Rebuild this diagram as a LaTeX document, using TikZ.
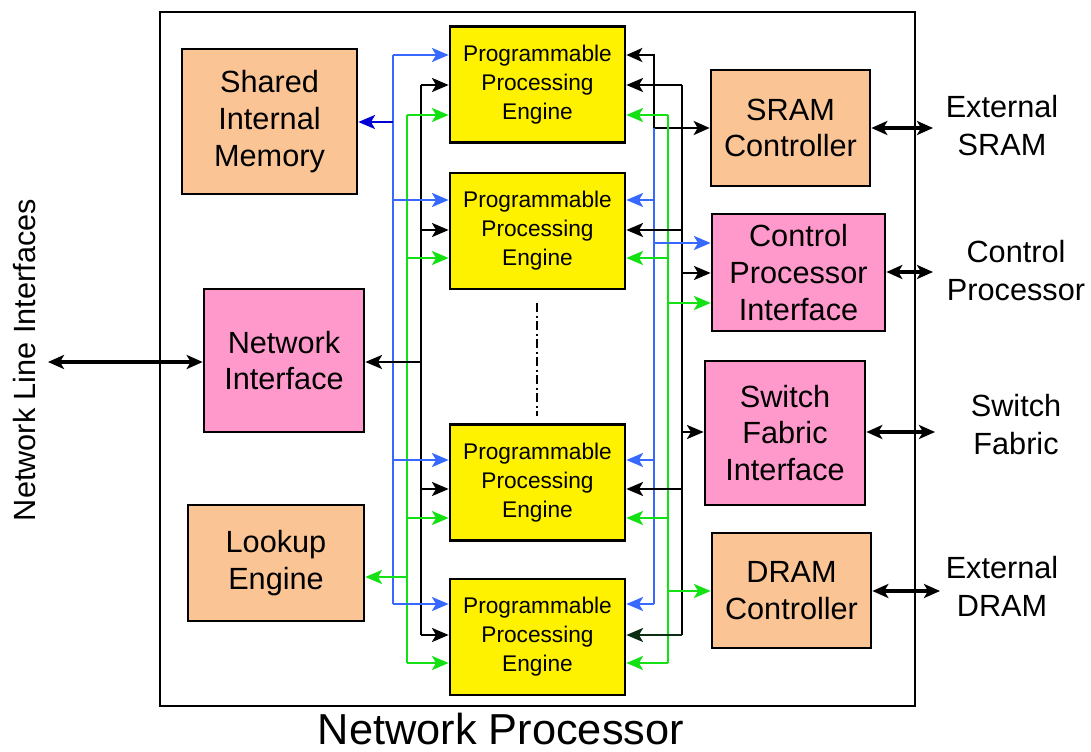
\documentclass[tikz,border=0pt]{standalone}
\usepackage{fontspec}
\setmainfont{Liberation Sans}
\usetikzlibrary{arrows.meta}

\definecolor{peach}{RGB}{250,196,148}
\definecolor{pinkbox}{RGB}{255,153,204}
\definecolor{busblue}{RGB}{55,105,255}
\definecolor{busgreen}{RGB}{20,225,20}
\definecolor{deepblue}{RGB}{0,0,215}
\definecolor{darkwire}{RGB}{10,45,20}

\begin{document}
\begin{tikzpicture}[x=0.75pt,y=-0.75pt,
  box/.style={draw=black, line width=2pt, align=center, inner sep=0pt},
  bigtxt/.style={font=\fontsize{23}{27.5}\selectfont},
  peachbox/.style={box, bigtxt, fill=peach},
  pinkbx/.style={box, bigtxt, fill=pinkbox},
  ppe/.style={box, fill=yellow, minimum width=131.25pt, minimum height=87pt,
              font=\fontsize{17}{21.75}\selectfont},
  label/.style={align=center, inner sep=0pt, font=\fontsize{23}{28.5}\selectfont},
  wire/.style={line width=1.9pt, line cap=butt},
  thickwire/.style={line width=2.3pt, line cap=butt},
  tip/.style={-{Stealth[length=12.5pt,width=10.5pt,inset=3pt]}},
  twotips/.style={{Stealth[length=12pt,width=10.5pt,inset=3pt]}-{Stealth[length=12pt,width=10.5pt,inset=3pt]}},
]
\useasboundingbox (0,0) rectangle (1091,752);

% chip outline and caption
\node[draw=black, line width=1.6pt, minimum width=566.25pt, minimum height=520.5pt,
      inner sep=0pt] (chip) at (537.5,359) {};
\node[inner sep=0pt, font=\fontsize{32.5}{38}\selectfont] (caption) at (501,729) {Network Processor};

% processing engines
\node[ppe] (ppe1) at (537.5,84.5) {Programmable\\Processing\\Engine};
\node[ppe] (ppe2) at (537.5,231)  {Programmable\\Processing\\Engine};
\node[ppe] (ppe3) at (537.5,482.5){Programmable\\Processing\\Engine};
\node[ppe] (ppe4) at (537.5,637)  {Programmable\\Processing\\Engine};

% left-hand units
\node[peachbox, minimum width=131.25pt, minimum height=108.75pt] (sim) at (269.5,121.5) {Shared\\Internal\\Memory};
\node[pinkbx,   minimum width=120pt,    minimum height=107.25pt] (ni)  at (284,360.5)   {Network\\Interface};
\node[peachbox, minimum width=132pt,    minimum height=87pt]     (le)  at (276,563)     {Lookup\\Engine};

% right-hand units
\node[peachbox, minimum width=119.25pt, minimum height=87pt]    (sram) at (790.5,128)   {SRAM\\Controller};
\node[pinkbx,   minimum width=129.75pt, minimum height=87.75pt] (cpi)  at (798.5,272.5) {Control\\Processor\\Interface};
\node[pinkbx,   minimum width=120pt,    minimum height=108pt]   (sfi)  at (785,433)     {Switch\\Fabric\\Interface};
\node[peachbox, minimum width=119.25pt, minimum height=86.25pt] (dram) at (791.5,590.5) {DRAM\\Controller};

% external labels
\node[inner sep=0pt, font=\fontsize{23}{28.5}\selectfont, rotate=90] (nli) at (25,360) {Network Line Interfaces};
\node[label] (xsram) at (1002,126) {External\\SRAM};
\node[label] (xcp)   at (1016,271) {Control\\Processor};
\node[label] (xsf)   at (1016,425) {Switch\\Fabric};
\node[label] (xdram) at (1002,586) {External\\DRAM};

% engines elided between the second and third
\coordinate (dd1) at (537,303);
\coordinate (dd2) at (537,416);
\draw[line width=1.6pt, dash pattern=on 7pt off 2.5pt on 1.5pt off 2.5pt] (dd1) -- (dd2);

% ---- left buses: blue, green, black ----
\coordinate (LBt) at (393,55);  \coordinate (LBb) at (393,604);
\coordinate (LGt) at (407,115); \coordinate (LGb) at (407,663);
\coordinate (LKt) at (421,85);  \coordinate (LKb) at (421,635);
\draw[wire, busblue]  (LBt) -- (LBb);
\draw[wire, busgreen] (LGt) -- (LGb);
\draw[wire, black]    (LKt) -- (LKb);

\foreach \e/\b/\k/\g in {ppe1/55/85/115, ppe2/200/230/258, ppe3/460/489/518, ppe4/604/635/663} {
  \coordinate (lb) at (393,\b);
  \coordinate (lk) at (421,\k);
  \coordinate (lg) at (407,\g);
  \draw[wire, busblue, tip]  (lb) -- (lb -| \e.west);
  \draw[wire, black, tip]    (lk) -- (lk -| \e.west);
  \draw[wire, busgreen, tip] (lg) -- (lg -| \e.west);
}

% left-hand units fed from the buses
\coordinate (tsim) at (393,122);
\coordinate (tni)  at (421,362);
\coordinate (tle)  at (407,577);
\draw[wire, deepblue, tip] (tsim) -- (tsim -| sim.east);
\draw[wire, black, tip]    (tni)  -- (tni -| ni.east);
\draw[wire, busgreen, tip] (tle)  -- (tle -| le.east);

% ---- right buses ----
% first engine to the SRAM controller
\coordinate (RA1) at (654,55);
\coordinate (RA2) at (654,128);
\draw[wire, black, twotips] (RA1 -| ppe1.east) -- (RA1) -- (RA2) -- (RA2 -| sram.west);

\coordinate (RBt) at (654,128); \coordinate (RBb) at (654,604);
\coordinate (RGt) at (668,115); \coordinate (RGb) at (668,663);
\coordinate (RKt) at (682,85);  \coordinate (RKb) at (682,635);
\draw[wire, busblue]  (RBt) -- (RBb);
\draw[wire, busgreen] (RGt) -- (RGb);
\draw[wire, black]    (RKt) -- (RKb);

% first engine: black and green only
\coordinate (rk1) at (682,85);
\coordinate (rg1) at (668,115);
\draw[wire, black, tip]    (rk1) -- (rk1 -| ppe1.east);
\draw[wire, busgreen, tip] (rg1) -- (rg1 -| ppe1.east);

\foreach \e/\b/\k/\g/\kc in {ppe2/200/230/258/black, ppe3/460/489/518/black, ppe4/604/635/663/darkwire} {
  \coordinate (rb) at (654,\b);
  \coordinate (rk) at (682,\k);
  \coordinate (rg) at (668,\g);
  \draw[wire, busblue, tip]  (rb) -- (rb -| \e.east);
  \draw[wire, \kc, tip]      (rk) -- (rk -| \e.east);
  \draw[wire, busgreen, tip] (rg) -- (rg -| \e.east);
}

% right-hand units fed from the buses
\coordinate (cb) at (654,243);
\coordinate (ck) at (682,273);
\coordinate (cg) at (668,303);
\coordinate (sk) at (682,432);
\coordinate (dg) at (668,591);
\draw[wire, busblue, tip]  (cb) -- (cb -| cpi.west);
\draw[wire, black, tip]    (ck) -- (ck -| cpi.west);
\draw[wire, busgreen, tip] (cg) -- (cg -| cpi.west);
\draw[wire, black, tip]    (sk) -- (sk -| sfi.west);
\draw[wire, busgreen, tip] (dg) -- (dg -| dram.west);

% ---- links leaving the chip ----
\coordinate (xnl)   at (48,362);
\coordinate (xsr)   at (933,128);
\coordinate (xcpe)  at (933,272);
\coordinate (xsfe)  at (935,432);
\coordinate (xdr)   at (940,591);
\draw[thickwire, black, twotips] (xnl) -- (xnl -| ni.west);
\draw[thickwire, black, twotips] (sram.east) -- (xsr);
\draw[thickwire, black, twotips] (cpi.east |- xcpe) -- (xcpe);
\draw[thickwire, black, twotips] (sfi.east |- xsfe) -- (xsfe);
\draw[thickwire, black, twotips] (dram.east |- xdr) -- (xdr);
\end{tikzpicture}
\end{document}
